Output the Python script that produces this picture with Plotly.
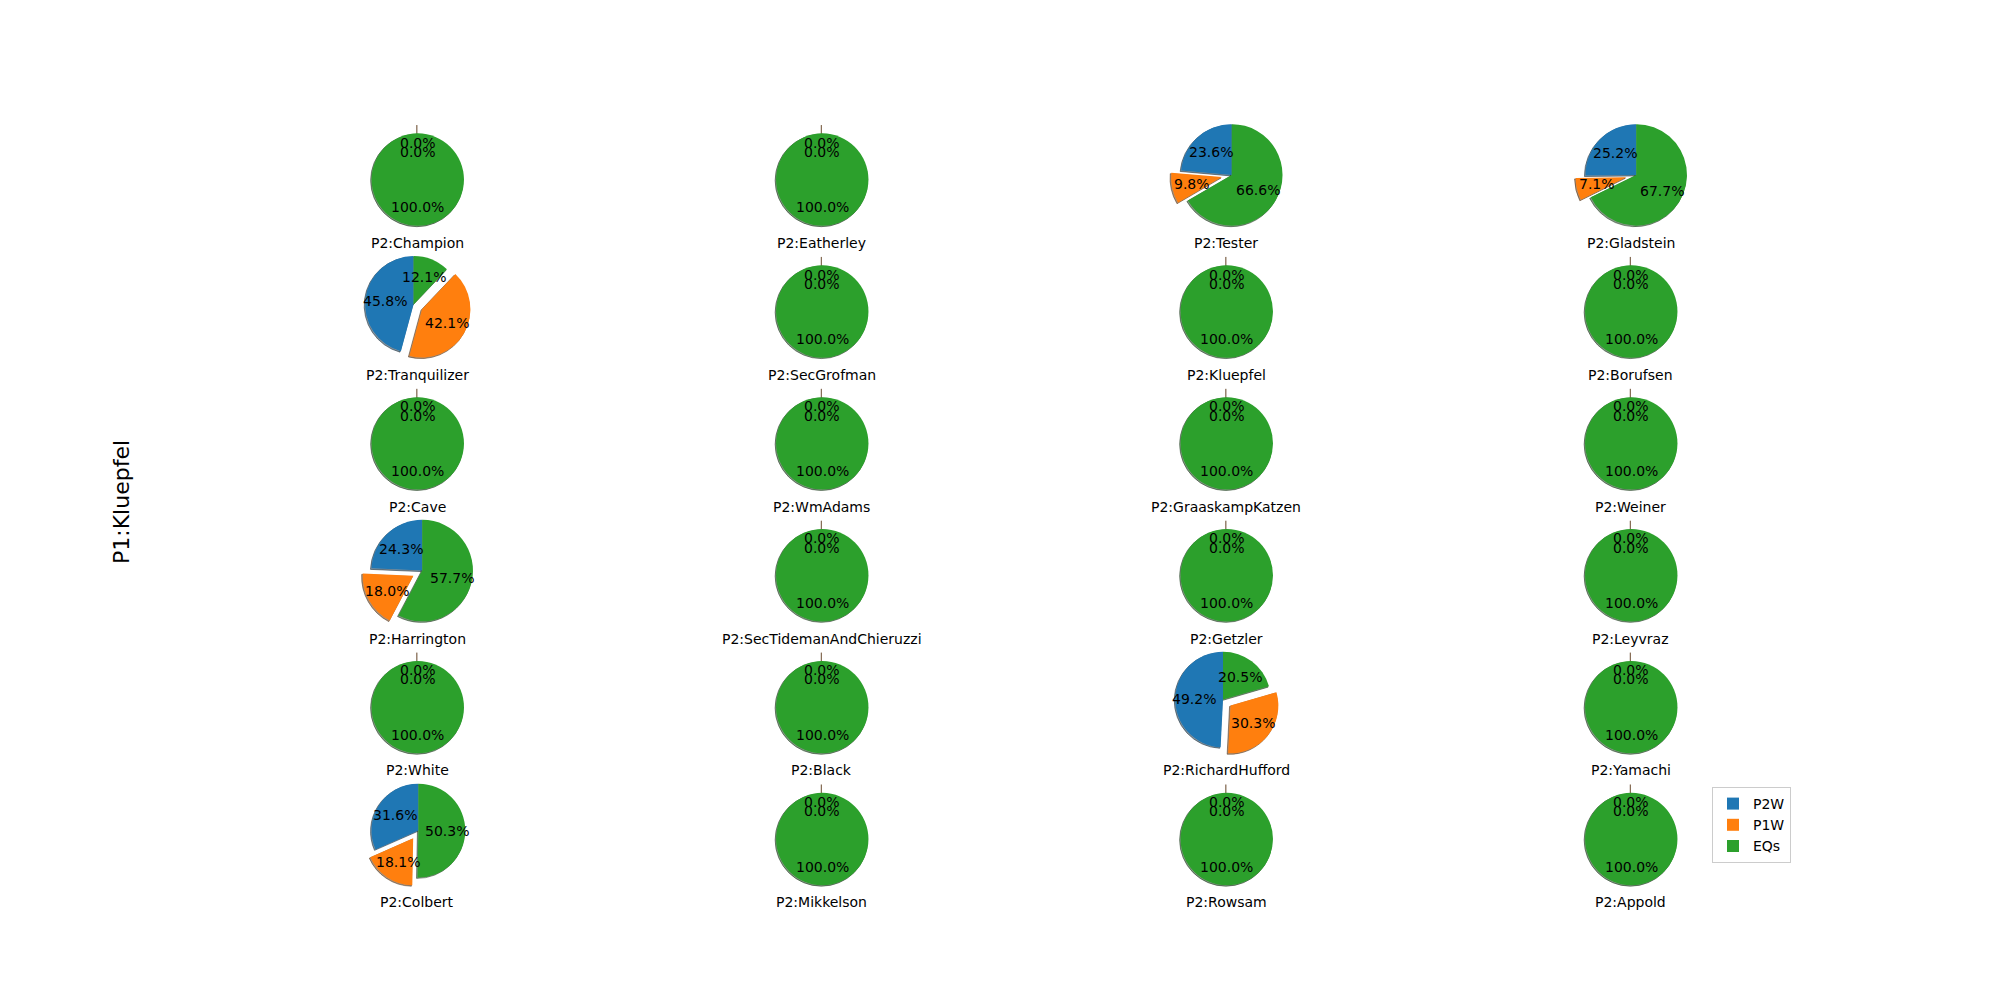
import math
import plotly.graph_objects as go

# ---------------- data ----------------
categories = ["P2W", "P1W", "EQs"]
opponents = [
    "P2:Champion", "P2:Eatherley", "P2:Tester", "P2:Gladstein",
    "P2:Tranquilizer", "P2:SecGrofman", "P2:Kluepfel", "P2:Borufsen",
    "P2:Cave", "P2:WmAdams", "P2:GraaskampKatzen", "P2:Weiner",
    "P2:Harrington", "P2:SecTidemanAndChieruzzi", "P2:Getzler", "P2:Leyvraz",
    "P2:White", "P2:Black", "P2:RichardHufford", "P2:Yamachi",
    "P2:Colbert", "P2:Mikkelson", "P2:Rowsam", "P2:Appold",
]
p2w = [0, 0, 23.6, 25.2,
       45.8, 0, 0, 0,
       0, 0, 0, 0,
       24.3, 0, 0, 0,
       0, 0, 49.2, 0,
       31.6, 0, 0, 0]
p1w = [0, 0, 9.8, 7.1,
       42.1, 0, 0, 0,
       0, 0, 0, 0,
       18.0, 0, 0, 0,
       0, 0, 30.3, 0,
       18.1, 0, 0, 0]
eqs = [100, 100, 66.6, 67.7,
       12.1, 100, 100, 100,
       100, 100, 100, 100,
       57.7, 100, 100, 100,
       100, 100, 20.5, 100,
       50.3, 100, 100, 100]
player1 = "P1:Kluepfel"

# ---------------- style / layout ----------------
W, H = 2000, 1000
FONT = "DejaVu Sans"
colors = [(31, 119, 180), (255, 127, 14), (44, 160, 44)]
explode = [0.0, 0.2, 0.0]
ncols = 4
col0, col_step = 417.3, 404.5
row0, row_step = 175.4, 131.9
cell_h = 112.8
shadow_off = 0.02
pct_dist = 0.6


def hexc(c):
    return "rgb(%d,%d,%d)" % c


def shadow_c(c):
    return "rgba(%d,%d,%d,0.5)" % tuple(round(0.3 * v) for v in c)


def wedges(vals):
    total = sum(vals)
    theta = 90.0
    out = []
    for v, e in zip(vals, explode):
        t1 = theta
        t2 = theta + 360.0 * v / total
        m = math.radians((t1 + t2) / 2)
        out.append((t1, t2, e * math.cos(m), e * math.sin(m), m, 100.0 * v / total))
        theta = t2
    return out


def extents(ws):
    xs, ys = [], []
    for t1, t2, ox, oy, m, pct in ws:
        angs = [t1, t2]
        k = math.ceil(t1 / 90.0) * 90
        while k <= t2:
            angs.append(k)
            k += 90
        pts = [(ox, oy)] + [(ox + math.cos(math.radians(a)), oy + math.sin(math.radians(a))) for a in angs]
        for dx, dy in [(0, 0), (-shadow_off, -shadow_off)]:
            for px, py in pts:
                xs.append(px + dx)
                ys.append(py + dy)
    return min(xs), max(xs), min(ys), max(ys)


def dom(pcx, pcy, s):
    D = 2 * s * (1 + max(explode))
    return dict(x=[(pcx - D / 2) / W, (pcx + D / 2) / W],
                y=[1 - (pcy + D / 2) / H, 1 - (pcy - D / 2) / H])


fig = go.Figure()
annotations = []
shadow_traces = []
main_traces = []

for i, name in enumerate(opponents):
    vals = [p2w[i], p1w[i], eqs[i]]
    r, c = divmod(i, ncols)
    cx = col0 + c * col_step
    cy = row0 + r * row_step
    ws = wedges(vals)
    xmin, xmax, ymin, ymax = extents(ws)
    s = cell_h / ((ymax - ymin) * 1.1)
    pcx = cx - (xmin + xmax) / 2 * s
    pcy = cy + (ymin + ymax) / 2 * s
    # plotly's counterclockwise mode ends the first slice at `rotation`;
    # shift so the first slice starts at 12 o'clock like matplotlib startangle=90
    rot = -360.0 * vals[0] / sum(vals)

    shadow_traces.append(go.Pie(
        labels=categories, values=vals, sort=False, direction="counterclockwise",
        rotation=rot, pull=explode, textinfo="none", hoverinfo="skip",
        showlegend=False,
        marker=dict(colors=[shadow_c(cc) for cc in colors],
                    line=dict(color=[shadow_c(cc) for cc in colors], width=1)),
        domain=dom(pcx - shadow_off * s, pcy + shadow_off * s, s),
    ))
    main_traces.append(go.Pie(
        labels=categories, values=vals, sort=False, direction="counterclockwise",
        rotation=rot, pull=explode, textinfo="none",
        marker=dict(colors=[hexc(cc) for cc in colors], line=dict(width=0)),
        domain=dom(pcx, pcy, s),
    ))

    for (t1, t2, ox, oy, m, pct) in ws:
        lx = pcx + s * (pct_dist * math.cos(m) + ox)
        ly = pcy - s * (pct_dist * math.sin(m) + oy)
        annotations.append(dict(
            x=lx / W, y=1 - ly / H, xref="paper", yref="paper",
            text="%.1f%%" % pct, showarrow=False, xanchor="center", yanchor="middle",
            font=dict(family=FONT, size=14, color="black")))

    annotations.append(dict(
        x=cx / W, y=1 - (cy + cell_h / 2 + 11) / H, xref="paper", yref="paper",
        text=name, showarrow=False, xanchor="center", yanchor="middle",
        font=dict(family=FONT, size=14, color="black")))

annotations.append(dict(
    x=121 / W, y=1 - 502 / H, xref="paper", yref="paper", text=player1,
    showarrow=False, textangle=-90, xanchor="center", yanchor="middle",
    font=dict(family=FONT, size=22, color="black")))

for t in shadow_traces + main_traces:
    fig.add_trace(t)

fig.update_layout(
    width=W, height=H,
    margin=dict(l=0, r=0, t=0, b=0, pad=0),
    paper_bgcolor="white", plot_bgcolor="white",
    annotations=annotations,
    legend=dict(x=1712 / W, y=1 - 787 / H, xanchor="left", yanchor="top",
                bgcolor="white", bordercolor="#cccccc", borderwidth=1,
                font=dict(family=FONT, size=14, color="black"),
                traceorder="normal"),
    font=dict(family=FONT),
)

fig.write_html("out.html")
